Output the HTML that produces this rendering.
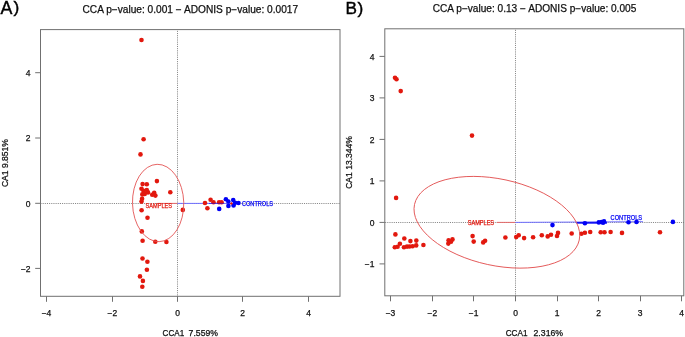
<!DOCTYPE html>
<html><head><meta charset="utf-8"><title>CCA plots</title>
<style>html,body{margin:0;padding:0;background:#fff;width:685px;height:337px;overflow:hidden;font-family:"Liberation Sans",sans-serif;} svg{display:block;will-change:transform}</style>
</head><body>
<svg width="685" height="337" viewBox="0 0 685 337">
<rect width="685" height="337" fill="#fff"/>
<line x1="40.45" y1="203.5" x2="340" y2="203.5" stroke="#888" stroke-width="1" stroke-dasharray="1.08 1.08"/>
<line x1="177.5" y1="30.84" x2="177.5" y2="296" stroke="#888" stroke-width="1" stroke-dasharray="1.08 1.08"/>
<line x1="385.12" y1="222.5" x2="684" y2="222.5" stroke="#888" stroke-width="1" stroke-dasharray="1.08 1.08"/>
<line x1="515.5" y1="29.82" x2="515.5" y2="296" stroke="#888" stroke-width="1" stroke-dasharray="1.08 1.08"/>
<line x1="157.5" y1="203.4" x2="177.5" y2="203.4" stroke="#e46a6a" stroke-width="1"/>
<line x1="177.5" y1="203.4" x2="240" y2="203.4" stroke="#7070ff" stroke-width="1"/>
<circle cx="141.5" cy="40.0" r="2.3" fill="#e2180e"/>
<circle cx="143.6" cy="139.3" r="2.3" fill="#e2180e"/>
<circle cx="140.5" cy="154.4" r="2.3" fill="#e2180e"/>
<circle cx="156.9" cy="181.1" r="2.3" fill="#e2180e"/>
<circle cx="142.6" cy="184.1" r="2.3" fill="#e2180e"/>
<circle cx="146.8" cy="184.3" r="2.3" fill="#e2180e"/>
<circle cx="141.5" cy="188.8" r="2.3" fill="#e2180e"/>
<circle cx="146.8" cy="190.0" r="2.3" fill="#e2180e"/>
<circle cx="143.5" cy="190.9" r="2.3" fill="#e2180e"/>
<circle cx="142.3" cy="194.4" r="2.3" fill="#e2180e"/>
<circle cx="144.7" cy="193.9" r="2.3" fill="#e2180e"/>
<circle cx="148.0" cy="192.4" r="2.3" fill="#e2180e"/>
<circle cx="154.2" cy="192.7" r="2.3" fill="#e2180e"/>
<circle cx="155.4" cy="195.6" r="2.3" fill="#e2180e"/>
<circle cx="152.2" cy="194.7" r="2.3" fill="#e2180e"/>
<circle cx="142.1" cy="198.8" r="2.3" fill="#e2180e"/>
<circle cx="141.5" cy="201.6" r="2.3" fill="#e2180e"/>
<circle cx="170.3" cy="192.2" r="2.3" fill="#e2180e"/>
<circle cx="141.6" cy="210.3" r="2.3" fill="#e2180e"/>
<circle cx="147.5" cy="217.8" r="2.3" fill="#e2180e"/>
<circle cx="141.8" cy="231.4" r="2.3" fill="#e2180e"/>
<circle cx="142.6" cy="240.7" r="2.3" fill="#e2180e"/>
<circle cx="155.3" cy="241.7" r="2.3" fill="#e2180e"/>
<circle cx="166.4" cy="242.0" r="2.3" fill="#e2180e"/>
<circle cx="142.5" cy="258.5" r="2.3" fill="#e2180e"/>
<circle cx="147.4" cy="261.7" r="2.3" fill="#e2180e"/>
<circle cx="146.9" cy="269.8" r="2.3" fill="#e2180e"/>
<circle cx="140.0" cy="276.4" r="2.3" fill="#e2180e"/>
<circle cx="142.9" cy="280.9" r="2.3" fill="#e2180e"/>
<circle cx="142.3" cy="286.7" r="2.3" fill="#e2180e"/>
<circle cx="182.8" cy="209.9" r="2.3" fill="#e2180e"/>
<circle cx="207.4" cy="208.3" r="2.3" fill="#e2180e"/>
<circle cx="210.6" cy="199.7" r="2.3" fill="#e2180e"/>
<circle cx="213.5" cy="202.2" r="2.3" fill="#e2180e"/>
<circle cx="219.1" cy="202.2" r="2.3" fill="#e2180e"/>
<circle cx="221.6" cy="202.2" r="2.3" fill="#e2180e"/>
<line x1="209" y1="203.4" x2="224" y2="203.4" stroke="#0000f5" stroke-width="1" opacity="0.5"/>
<circle cx="205.0" cy="203.0" r="2.3" fill="#e2180e"/>
<circle cx="219.2" cy="208.9" r="2.3" fill="#0000f5"/>
<circle cx="225.9" cy="199.3" r="2.3" fill="#0000f5"/>
<circle cx="228.3" cy="201.5" r="2.3" fill="#0000f5"/>
<circle cx="228.4" cy="205.9" r="2.3" fill="#0000f5"/>
<circle cx="233.2" cy="200.1" r="2.3" fill="#0000f5"/>
<circle cx="233.6" cy="205.5" r="2.3" fill="#0000f5"/>
<circle cx="235.1" cy="202.8" r="2.3" fill="#0000f5"/>
<circle cx="238.5" cy="203.0" r="2.3" fill="#0000f5"/>
<rect x="230.3" y="202.4" width="2.2" height="2.2" fill="#e2180e" transform="rotate(45 231.4 203.5)"/>
<ellipse cx="158.12" cy="202.98" rx="25.63" ry="38.69" transform="rotate(-1.5 158.12 202.98)" fill="none" stroke="#e35656" stroke-width="0.9"/>
<circle cx="395.0" cy="77.8" r="2.3" fill="#e2180e"/>
<circle cx="396.5" cy="79.3" r="2.3" fill="#e2180e"/>
<circle cx="400.7" cy="91.1" r="2.3" fill="#e2180e"/>
<circle cx="472.0" cy="135.6" r="2.3" fill="#e2180e"/>
<circle cx="396.1" cy="197.9" r="2.3" fill="#e2180e"/>
<circle cx="395.4" cy="234.4" r="2.3" fill="#e2180e"/>
<circle cx="404.3" cy="238.5" r="2.3" fill="#e2180e"/>
<circle cx="410.4" cy="241.1" r="2.3" fill="#e2180e"/>
<circle cx="416.3" cy="240.6" r="2.3" fill="#e2180e"/>
<circle cx="399.9" cy="243.8" r="2.3" fill="#e2180e"/>
<circle cx="394.8" cy="247.2" r="2.3" fill="#e2180e"/>
<circle cx="397.6" cy="246.7" r="2.3" fill="#e2180e"/>
<circle cx="404.0" cy="247.2" r="2.3" fill="#e2180e"/>
<circle cx="407.0" cy="246.6" r="2.3" fill="#e2180e"/>
<circle cx="409.6" cy="246.5" r="2.3" fill="#e2180e"/>
<circle cx="412.6" cy="246.2" r="2.3" fill="#e2180e"/>
<circle cx="416.2" cy="245.4" r="2.3" fill="#e2180e"/>
<circle cx="423.4" cy="245.0" r="2.3" fill="#e2180e"/>
<circle cx="448.6" cy="240.2" r="2.3" fill="#e2180e"/>
<circle cx="452.5" cy="239.4" r="2.3" fill="#e2180e"/>
<circle cx="448.3" cy="243.6" r="2.3" fill="#e2180e"/>
<circle cx="451.0" cy="241.8" r="2.3" fill="#e2180e"/>
<circle cx="472.6" cy="236.1" r="2.3" fill="#e2180e"/>
<circle cx="473.7" cy="241.6" r="2.3" fill="#e2180e"/>
<circle cx="483.2" cy="242.4" r="2.3" fill="#e2180e"/>
<circle cx="485.1" cy="240.7" r="2.3" fill="#e2180e"/>
<circle cx="505.4" cy="237.5" r="2.3" fill="#e2180e"/>
<circle cx="516.2" cy="237.1" r="2.3" fill="#e2180e"/>
<circle cx="518.7" cy="235.2" r="2.3" fill="#e2180e"/>
<circle cx="524.1" cy="238.1" r="2.3" fill="#e2180e"/>
<circle cx="533.1" cy="237.3" r="2.3" fill="#e2180e"/>
<circle cx="541.8" cy="235.2" r="2.3" fill="#e2180e"/>
<circle cx="547.7" cy="236.4" r="2.3" fill="#e2180e"/>
<circle cx="551.0" cy="234.7" r="2.3" fill="#e2180e"/>
<circle cx="557.0" cy="236.0" r="2.3" fill="#e2180e"/>
<circle cx="558.0" cy="232.9" r="2.3" fill="#e2180e"/>
<circle cx="571.7" cy="233.5" r="2.3" fill="#e2180e"/>
<circle cx="581.4" cy="233.7" r="2.3" fill="#e2180e"/>
<circle cx="584.9" cy="232.7" r="2.3" fill="#e2180e"/>
<circle cx="590.2" cy="232.0" r="2.3" fill="#e2180e"/>
<circle cx="600.7" cy="232.2" r="2.3" fill="#e2180e"/>
<circle cx="604.5" cy="232.2" r="2.3" fill="#e2180e"/>
<circle cx="610.6" cy="232.0" r="2.3" fill="#e2180e"/>
<circle cx="622.0" cy="232.9" r="2.3" fill="#e2180e"/>
<circle cx="660.0" cy="232.3" r="2.3" fill="#e2180e"/>
<line x1="496.9" y1="222.4" x2="515.3" y2="222.4" stroke="#e46a6a" stroke-width="1"/>
<line x1="515.3" y1="222.4" x2="643" y2="221.7" stroke="#7070ff" stroke-width="1"/>
<line x1="576.5" y1="222.9" x2="607" y2="222.7" stroke="#0000f5" stroke-width="1.9" opacity="0.88"/>
<circle cx="552.5" cy="225.1" r="2.3" fill="#0000f5"/>
<circle cx="584.9" cy="223.2" r="2.3" fill="#0000f5"/>
<circle cx="598.8" cy="222.4" r="2.3" fill="#0000f5"/>
<circle cx="601.4" cy="222.0" r="2.3" fill="#0000f5"/>
<circle cx="604.0" cy="221.4" r="2.3" fill="#0000f5"/>
<circle cx="603.1" cy="222.8" r="2.3" fill="#0000f5"/>
<circle cx="628.5" cy="222.3" r="2.3" fill="#0000f5"/>
<circle cx="636.5" cy="222.0" r="2.3" fill="#0000f5"/>
<circle cx="672.9" cy="221.9" r="2.3" fill="#0000f5"/>
<ellipse cx="496.88" cy="222.26" rx="84.27" ry="43.24" transform="rotate(12.21 496.88 222.26)" fill="none" stroke="#e35656" stroke-width="0.9"/>
<rect x="40.5" y="29.6" width="299.50" height="266.70" fill="none" stroke="#707070" stroke-width="1"/>
<rect x="384.8" y="28.8" width="299.00" height="267.00" fill="none" stroke="#707070" stroke-width="1"/>
<line x1="46.5" y1="296.3" x2="46.5" y2="301.8" stroke="#707070" stroke-width="1"/>
<line x1="112.5" y1="296.3" x2="112.5" y2="301.8" stroke="#707070" stroke-width="1"/>
<line x1="177.5" y1="296.3" x2="177.5" y2="301.8" stroke="#707070" stroke-width="1"/>
<line x1="242.5" y1="296.3" x2="242.5" y2="301.8" stroke="#707070" stroke-width="1"/>
<line x1="308.5" y1="296.3" x2="308.5" y2="301.8" stroke="#707070" stroke-width="1"/>
<line x1="35.2" y1="72.7" x2="40.5" y2="72.7" stroke="#707070" stroke-width="1"/>
<line x1="35.2" y1="138.0" x2="40.5" y2="138.0" stroke="#707070" stroke-width="1"/>
<line x1="35.2" y1="203.3" x2="40.5" y2="203.3" stroke="#707070" stroke-width="1"/>
<line x1="35.2" y1="268.4" x2="40.5" y2="268.4" stroke="#707070" stroke-width="1"/>
<line x1="390.5" y1="295.8" x2="390.5" y2="301.3" stroke="#707070" stroke-width="1"/>
<line x1="432.5" y1="295.8" x2="432.5" y2="301.3" stroke="#707070" stroke-width="1"/>
<line x1="473.5" y1="295.8" x2="473.5" y2="301.3" stroke="#707070" stroke-width="1"/>
<line x1="515.5" y1="295.8" x2="515.5" y2="301.3" stroke="#707070" stroke-width="1"/>
<line x1="557.5" y1="295.8" x2="557.5" y2="301.3" stroke="#707070" stroke-width="1"/>
<line x1="598.5" y1="295.8" x2="598.5" y2="301.3" stroke="#707070" stroke-width="1"/>
<line x1="640.5" y1="295.8" x2="640.5" y2="301.3" stroke="#707070" stroke-width="1"/>
<line x1="681.5" y1="295.8" x2="681.5" y2="301.3" stroke="#707070" stroke-width="1"/>
<line x1="379.5" y1="263.9" x2="384.8" y2="263.9" stroke="#707070" stroke-width="1"/>
<line x1="379.5" y1="222.4" x2="384.8" y2="222.4" stroke="#707070" stroke-width="1"/>
<line x1="379.5" y1="180.9" x2="384.8" y2="180.9" stroke="#707070" stroke-width="1"/>
<line x1="379.5" y1="139.4" x2="384.8" y2="139.4" stroke="#707070" stroke-width="1"/>
<line x1="379.5" y1="97.9" x2="384.8" y2="97.9" stroke="#707070" stroke-width="1"/>
<line x1="379.5" y1="56.400000000000006" x2="384.8" y2="56.400000000000006" stroke="#707070" stroke-width="1"/>
<text x="46.5" y="316.1" font-family="Liberation Sans, sans-serif" font-size="8.5" text-anchor="middle" fill="#111" stroke="#111" stroke-width="0.25">−4</text>
<text x="112.3" y="316.1" font-family="Liberation Sans, sans-serif" font-size="8.5" text-anchor="middle" fill="#111" stroke="#111" stroke-width="0.25">−2</text>
<text x="177.5" y="316.1" font-family="Liberation Sans, sans-serif" font-size="8.5" text-anchor="middle" fill="#111" stroke="#111" stroke-width="0.25">0</text>
<text x="242.7" y="316.1" font-family="Liberation Sans, sans-serif" font-size="8.5" text-anchor="middle" fill="#111" stroke="#111" stroke-width="0.25">2</text>
<text x="308.5" y="316.1" font-family="Liberation Sans, sans-serif" font-size="8.5" text-anchor="middle" fill="#111" stroke="#111" stroke-width="0.25">4</text>
<text x="30.6" y="76.0" font-family="Liberation Sans, sans-serif" font-size="8.5" text-anchor="end" fill="#111" stroke="#111" stroke-width="0.25">4</text>
<text x="30.6" y="141.3" font-family="Liberation Sans, sans-serif" font-size="8.5" text-anchor="end" fill="#111" stroke="#111" stroke-width="0.25">2</text>
<text x="30.6" y="206.6" font-family="Liberation Sans, sans-serif" font-size="8.5" text-anchor="end" fill="#111" stroke="#111" stroke-width="0.25">0</text>
<text x="30.6" y="271.7" font-family="Liberation Sans, sans-serif" font-size="8.5" text-anchor="end" fill="#111" stroke="#111" stroke-width="0.25">−2</text>
<text x="390.5" y="315.5" font-family="Liberation Sans, sans-serif" font-size="8.5" text-anchor="middle" fill="#111" stroke="#111" stroke-width="0.25">−3</text>
<text x="432.3" y="315.5" font-family="Liberation Sans, sans-serif" font-size="8.5" text-anchor="middle" fill="#111" stroke="#111" stroke-width="0.25">−2</text>
<text x="473.7" y="315.5" font-family="Liberation Sans, sans-serif" font-size="8.5" text-anchor="middle" fill="#111" stroke="#111" stroke-width="0.25">−1</text>
<text x="515.5" y="315.5" font-family="Liberation Sans, sans-serif" font-size="8.5" text-anchor="middle" fill="#111" stroke="#111" stroke-width="0.25">0</text>
<text x="557.0" y="315.5" font-family="Liberation Sans, sans-serif" font-size="8.5" text-anchor="middle" fill="#111" stroke="#111" stroke-width="0.25">1</text>
<text x="598.6" y="315.5" font-family="Liberation Sans, sans-serif" font-size="8.5" text-anchor="middle" fill="#111" stroke="#111" stroke-width="0.25">2</text>
<text x="640.2" y="315.5" font-family="Liberation Sans, sans-serif" font-size="8.5" text-anchor="middle" fill="#111" stroke="#111" stroke-width="0.25">3</text>
<text x="681.5" y="315.5" font-family="Liberation Sans, sans-serif" font-size="8.5" text-anchor="middle" fill="#111" stroke="#111" stroke-width="0.25">4</text>
<text x="374.4" y="267.2" font-family="Liberation Sans, sans-serif" font-size="8.5" text-anchor="end" fill="#111" stroke="#111" stroke-width="0.25">−1</text>
<text x="374.4" y="225.7" font-family="Liberation Sans, sans-serif" font-size="8.5" text-anchor="end" fill="#111" stroke="#111" stroke-width="0.25">0</text>
<text x="374.4" y="184.2" font-family="Liberation Sans, sans-serif" font-size="8.5" text-anchor="end" fill="#111" stroke="#111" stroke-width="0.25">1</text>
<text x="374.4" y="142.7" font-family="Liberation Sans, sans-serif" font-size="8.5" text-anchor="end" fill="#111" stroke="#111" stroke-width="0.25">2</text>
<text x="374.4" y="101.2" font-family="Liberation Sans, sans-serif" font-size="8.5" text-anchor="end" fill="#111" stroke="#111" stroke-width="0.25">3</text>
<text x="374.4" y="59.7" font-family="Liberation Sans, sans-serif" font-size="8.5" text-anchor="end" fill="#111" stroke="#111" stroke-width="0.25">4</text>
<text x="82.5" y="12.9" font-family="Liberation Sans, sans-serif" font-size="10" textLength="215.6" lengthAdjust="spacingAndGlyphs" fill="#111" stroke="#111" stroke-width="0.25">CCA p−value: 0.001 − ADONIS p−value: 0.0017</text>
<text x="432.7" y="12.3" font-family="Liberation Sans, sans-serif" font-size="10" textLength="203.6" lengthAdjust="spacingAndGlyphs" fill="#111" stroke="#111" stroke-width="0.25">CCA p−value: 0.13 − ADONIS p−value: 0.005</text>
<text x="162.6" y="335.7" font-family="Liberation Sans, sans-serif" font-size="8.2" fill="#111" stroke="#111" stroke-width="0.25"><tspan textLength="21.6" lengthAdjust="spacingAndGlyphs">CCA1</tspan><tspan x="188.6" textLength="29.4" lengthAdjust="spacingAndGlyphs">7.559%</tspan></text>
<text x="505.7" y="335.5" font-family="Liberation Sans, sans-serif" font-size="8.2" fill="#111" stroke="#111" stroke-width="0.25"><tspan textLength="21.8" lengthAdjust="spacingAndGlyphs">CCA1</tspan><tspan x="533.5" textLength="29.6" lengthAdjust="spacingAndGlyphs">2.316%</tspan></text>
<text transform="translate(7.8 187.1) rotate(-90)" font-family="Liberation Sans, sans-serif" font-size="8.5" textLength="48.0" lengthAdjust="spacingAndGlyphs" fill="#111" stroke="#111" stroke-width="0.25">CA1 9.851%</text>
<text transform="translate(351.5 188.8) rotate(-90)" font-family="Liberation Sans, sans-serif" font-size="8.5" textLength="52.6" lengthAdjust="spacingAndGlyphs" fill="#111" stroke="#111" stroke-width="0.25">CA1 13.344%</text>
<text x="0.5" y="13.5" font-family="Liberation Sans, sans-serif" font-size="17.8" fill="#000" stroke="#000" stroke-width="0.4">A</text>
<text x="13.6" y="13.3" font-family="Liberation Sans, sans-serif" font-size="17.3" fill="#000" stroke="#000" stroke-width="0.4">)</text>
<text x="345.5" y="13.8" font-family="Liberation Sans, sans-serif" font-size="17.2" fill="#000" stroke="#000" stroke-width="0.4">B</text>
<text x="357.6" y="13.6" font-family="Liberation Sans, sans-serif" font-size="17.3" fill="#000" stroke="#000" stroke-width="0.4">)</text>
<text x="145.6" y="208.2" font-family="Liberation Sans, sans-serif" font-size="6.4" textLength="26.4" lengthAdjust="spacingAndGlyphs" fill="#e2180e" stroke="#e2180e" stroke-width="0.25">SAMPLES</text>
<text x="242.0" y="206.0" font-family="Liberation Sans, sans-serif" font-size="6.4" textLength="31.0" lengthAdjust="spacingAndGlyphs" fill="#0000f5" stroke="#0000f5" stroke-width="0.25">CONTROLS</text>
<text x="467.7" y="225.0" font-family="Liberation Sans, sans-serif" font-size="6.4" textLength="26.4" lengthAdjust="spacingAndGlyphs" fill="#e2180e" stroke="#e2180e" stroke-width="0.25">SAMPLES</text>
<text x="610.6" y="219.7" font-family="Liberation Sans, sans-serif" font-size="6.4" textLength="31.5" lengthAdjust="spacingAndGlyphs" fill="#0000f5" stroke="#0000f5" stroke-width="0.25">CONTROLS</text>
</svg>
</body></html>
